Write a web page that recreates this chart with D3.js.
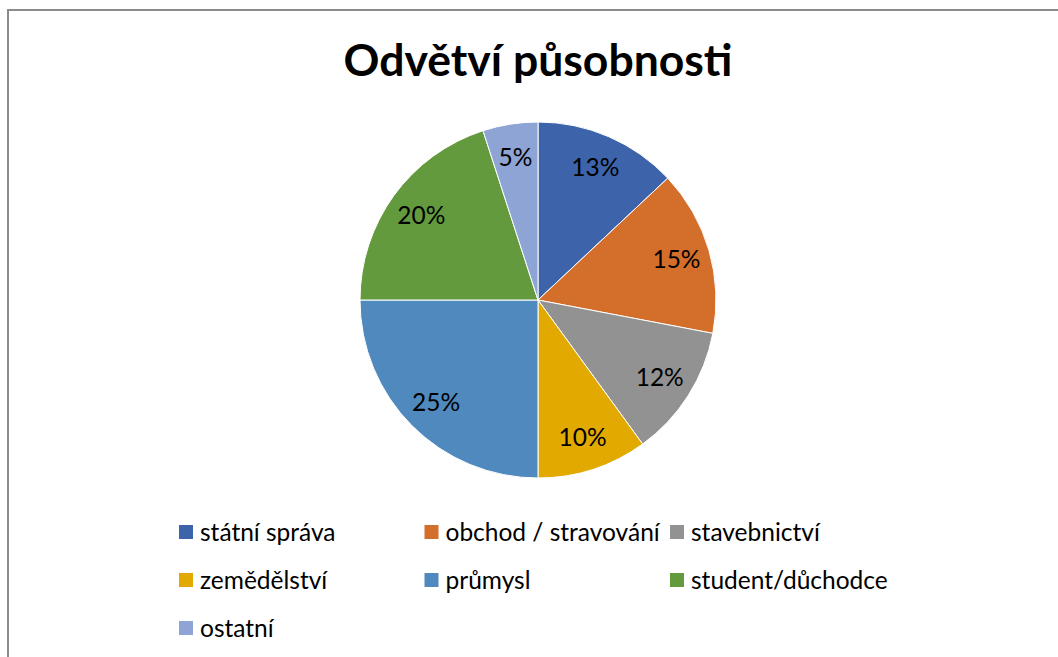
<!DOCTYPE html>
<meta charset="utf-8">
<style>
  body { margin: 0; background: #fff; }
  svg { display: block; }
  .title { font: bold 44.5px Lato, sans-serif; fill: #000; }
  .pct { font: 24.5px Lato, sans-serif; fill: #000; }
  .legend text { font: 24.5px Lato, sans-serif; fill: #000; }
</style>
<body></body>
<script src="https://d3js.org/d3.v7.min.js"></script>
<script>

var categories = ["státní správa", "obchod / stravování", "stavebnictví",
                  "zemědělství", "průmysl", "student/důchodce", "ostatní"];
var values = [13, 15, 12, 10, 25, 20, 5];
var colors = ["#3d64ab", "#d46e2b", "#929292", "#e2aa00", "#4f89bd", "#639a3e", "#8ea4d4"];
var title = "Odvětví působnosti";

var W = 1058, H = 657;
var cx = 538, cy = 300, r = 178;

var svg = d3.select("body").append("svg")
    .attr("width", W)
    .attr("height", H);

// chart frame (only top and left edge are visible in the crop)
svg.append("rect")
    .attr("x", 8).attr("y", 10)
    .attr("width", W + 20).attr("height", H + 20)
    .attr("fill", "none")
    .attr("stroke", "#8c8c8c")
    .attr("stroke-width", 2);

svg.append("text")
    .attr("class", "title")
    .attr("x", cx)
    .attr("y", 76)
    .attr("text-anchor", "middle")
    .text(title);

var data = categories.map(function(c, i) {
    return {name: c, value: values[i], color: colors[i]};
});

var pie = d3.pie()
    .sort(null)
    .value(function(d) { return d.value; });

var arc = d3.arc().innerRadius(0).outerRadius(r);
var labelArc = d3.arc().innerRadius(r * 0.81).outerRadius(r * 0.81);

var g = svg.append("g")
    .attr("transform", "translate(" + cx + "," + cy + ")");

var total = d3.sum(values);

g.selectAll("path")
    .data(pie(data))
    .enter()
    .append("path")
    .attr("d", arc)
    .attr("fill", function(d) { return d.data.color; })
    .attr("stroke", "#fff")
    .attr("stroke-width", 1);

g.selectAll(".pct")
    .data(pie(data))
    .enter()
    .append("text")
    .attr("class", "pct")
    .attr("transform", function(d) { return "translate(" + labelArc.centroid(d) + ")"; })
    .attr("text-anchor", "middle")
    .attr("dy", "0.35em")
    .text(function(d) { return Math.round(d.data.value / total * 100) + "%"; });

// legend, 3 per row
var legend = svg.append("g").attr("class", "legend");

var item = legend.selectAll("g")
    .data(data)
    .enter()
    .append("g")
    .attr("transform", function(d, i) {
        var x = 179 + (i % 3) * 245.5;
        var y = 532 + Math.floor(i / 3) * 48;
        return "translate(" + x + "," + y + ")";
    });

item.append("rect")
    .attr("x", 0).attr("y", -7)
    .attr("width", 14).attr("height", 14)
    .attr("fill", function(d) { return d.color; });

item.append("text")
    .attr("x", 21)
    .attr("dy", "0.35em")
    .text(function(d) { return d.name; });

</script>
